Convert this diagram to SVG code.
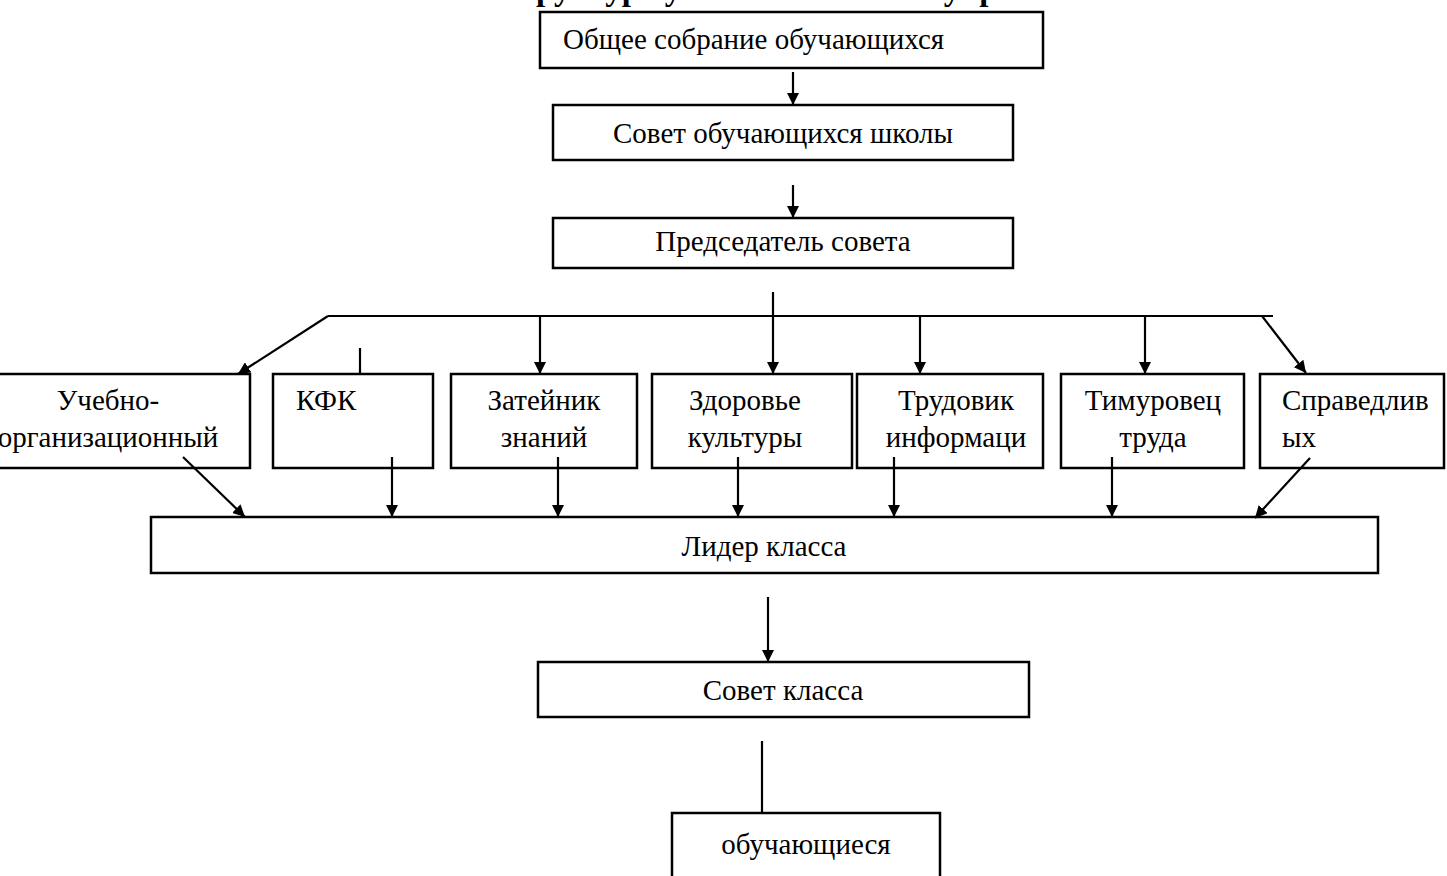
<svg xmlns="http://www.w3.org/2000/svg" width="1447" height="876" viewBox="0 0 1447 876">
<style>
.box{fill:#fff;stroke:#000;stroke-width:2.5}
.t{font-family:"Liberation Serif","Times New Roman",serif;font-size:29px;fill:#000}
.c{text-anchor:middle}
.ln{stroke:#000;stroke-width:2.2;fill:none}
.title{font-family:"Liberation Serif","Times New Roman",serif;font-size:33px;font-weight:bold;fill:#000}
</style>
<defs>
<marker id="ah" viewBox="0 0 10 10" refX="10" refY="5" markerWidth="5.5" markerHeight="5.5" markerUnits="strokeWidth" orient="auto">
<path d="M0,0 L10,5 L0,10 z" fill="#000"/>
</marker>
</defs>
<text class="title" x="496" y="0">Структура ученического самоуправления</text>

<g id="n1"><rect class="box" x="540" y="12" width="503" height="56"/><text class="t" x="563" y="49">Общее собрание обучающихся</text></g>
<g id="n2"><rect class="box" x="553" y="105" width="460" height="55"/><text class="t c" x="783" y="143">Совет обучающихся школы</text></g>
<g id="n3"><rect class="box" x="553" y="218" width="460" height="50"/><text class="t c" x="783" y="251">Председатель совета</text></g>

<g id="n4"><rect class="box" x="-10" y="374" width="260" height="94"/><text class="t c" x="108" y="410">Учебно-</text><text class="t c" x="108" y="447">организационный</text></g>
<g id="n5"><rect class="box" x="273" y="374" width="160" height="94"/><text class="t" x="296" y="410">КФК</text></g>
<g id="n6"><rect class="box" x="451" y="374" width="186" height="94"/><text class="t c" x="544" y="410">Затейник</text><text class="t c" x="544" y="447">знаний</text></g>
<g id="n7"><rect class="box" x="652" y="374" width="200" height="94"/><text class="t c" x="745" y="410">Здоровье</text><text class="t c" x="745" y="447">культуры</text></g>
<g id="n8"><rect class="box" x="857" y="374" width="186" height="94"/><text class="t c" x="956" y="410">Трудовик</text><text class="t c" x="956" y="447">информаци</text></g>
<g id="n9"><rect class="box" x="1061" y="374" width="183" height="94"/><text class="t c" x="1153" y="410">Тимуровец</text><text class="t c" x="1153" y="447">труда</text></g>
<g id="n10"><rect class="box" x="1260" y="374" width="184" height="94"/><text class="t" x="1282" y="410">Справедлив</text><text class="t" x="1282" y="447">ых</text></g>

<g id="n11"><rect class="box" x="151" y="517" width="1227" height="56"/><text class="t c" x="764" y="556">Лидер класса</text></g>
<g id="n12"><rect class="box" x="538" y="662" width="491" height="55"/><text class="t c" x="783" y="700">Совет класса</text></g>
<g id="n13"><rect class="box" x="672" y="813" width="268" height="80"/><text class="t c" x="806" y="854">обучающиеся</text></g>

<g id="connectors">
<line class="ln" x1="793" y1="72" x2="793" y2="105" marker-end="url(#ah)"/>
<line class="ln" x1="793" y1="185" x2="793" y2="218" marker-end="url(#ah)"/>
<line class="ln" x1="773" y1="292" x2="773" y2="316"/>
<line class="ln" x1="328" y1="316" x2="1273" y2="316"/>
<line class="ln" x1="328" y1="316" x2="238" y2="374" marker-end="url(#ah)"/>
<line class="ln" x1="540" y1="316" x2="540" y2="374" marker-end="url(#ah)"/>
<line class="ln" x1="773" y1="316" x2="773" y2="374" marker-end="url(#ah)"/>
<line class="ln" x1="920" y1="316" x2="920" y2="374" marker-end="url(#ah)"/>
<line class="ln" x1="1145" y1="316" x2="1145" y2="374" marker-end="url(#ah)"/>
<line class="ln" x1="1262" y1="316" x2="1306" y2="373" marker-end="url(#ah)"/>
<line class="ln" x1="360" y1="348" x2="360" y2="374"/>
<line class="ln" x1="183" y1="457" x2="245" y2="517" marker-end="url(#ah)"/>
<line class="ln" x1="392" y1="457" x2="392" y2="517" marker-end="url(#ah)"/>
<line class="ln" x1="558" y1="457" x2="558" y2="517" marker-end="url(#ah)"/>
<line class="ln" x1="738" y1="457" x2="738" y2="517" marker-end="url(#ah)"/>
<line class="ln" x1="894" y1="457" x2="894" y2="517" marker-end="url(#ah)"/>
<line class="ln" x1="1112" y1="457" x2="1112" y2="517" marker-end="url(#ah)"/>
<line class="ln" x1="1310" y1="458" x2="1255" y2="518" marker-end="url(#ah)"/>
<line class="ln" x1="768" y1="597" x2="768" y2="662" marker-end="url(#ah)"/>
<line class="ln" x1="762" y1="741" x2="762" y2="813"/>
</g>
</svg>
